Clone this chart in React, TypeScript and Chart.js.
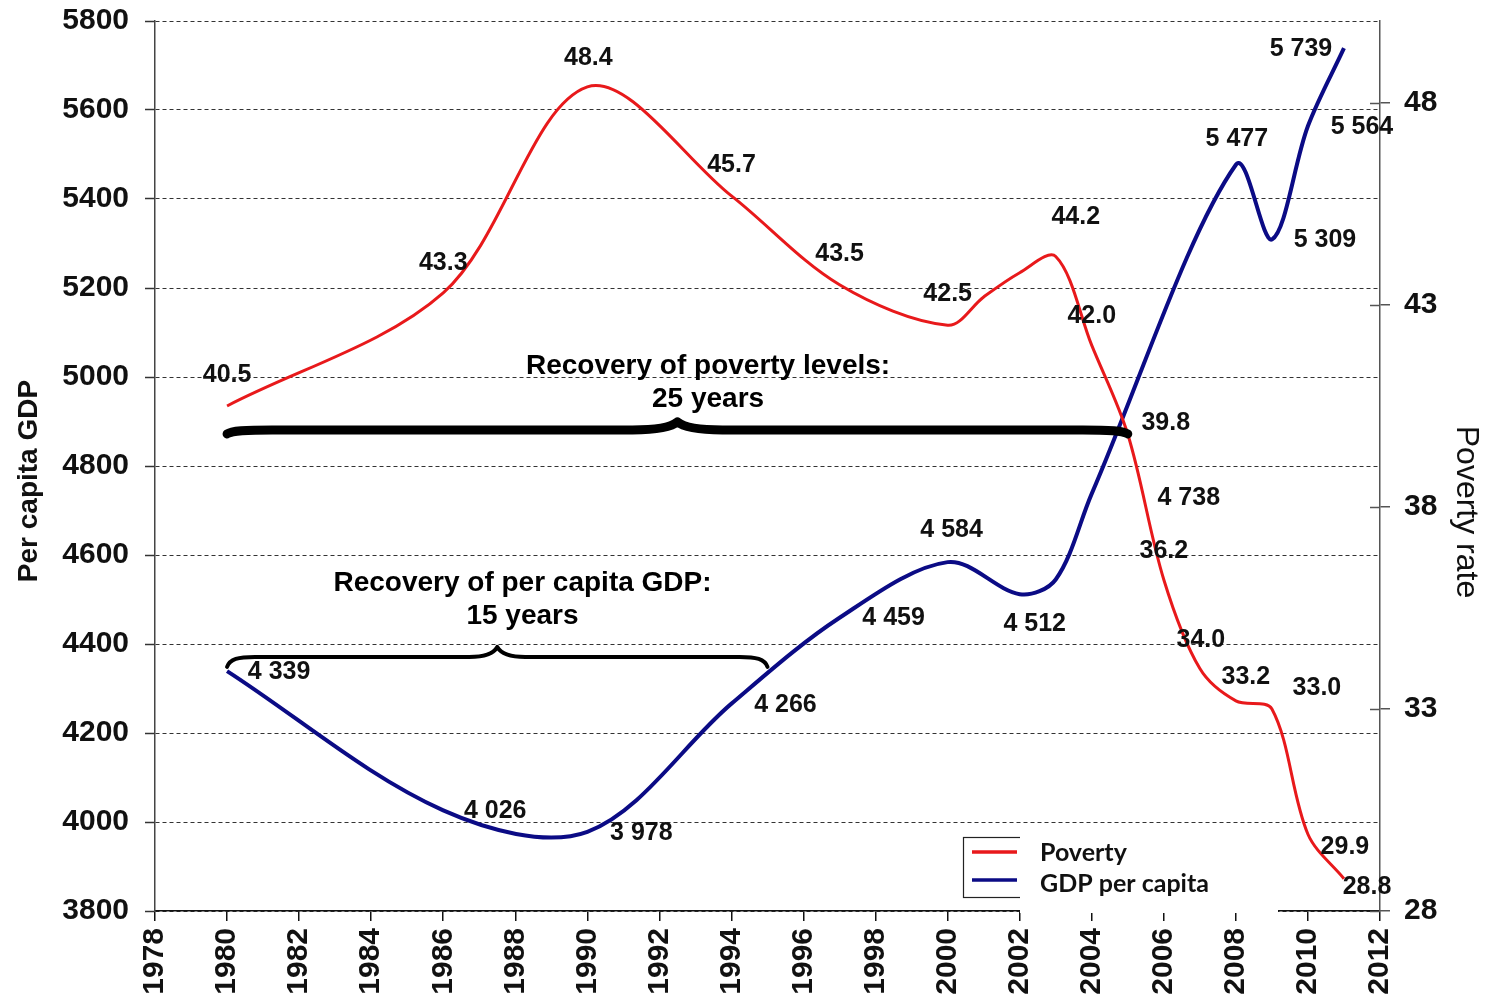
import React, { useEffect, useRef } from "react";
import { Chart, registerables } from "chart.js";

Chart.register(...registerables);

// ---------------- data ----------------
const povertyYears = [1980, 1986, 1990, 1994, 1997, 2000, 2001, 2002, 2003, 2004, 2005, 2006, 2007, 2008, 2009, 2010, 2011];
const povertyRates = [40.5, 43.3, 48.4, 45.7, 43.5, 42.5, 43.2, 43.8, 44.2, 42.0, 39.8, 36.2, 34.0, 33.2, 33.0, 29.9, 28.8];

const gdpYears = [1980, 1986, 1990, 1994, 1997, 2000, 2002, 2003, 2004, 2008, 2009, 2010, 2011];
const gdpValues = [4339, 4026, 3978, 4266, 4459, 4584, 4512, 4545, 4738, 5477, 5309, 5564, 5739];

const xTickStart = 1978;
const xTickEnd = 2012;
const xTickStep = 2;
const gdpTickMin = 3800;
const gdpTickMax = 5800;
const gdpTickStep = 200;
const povertyTicks = [28, 33, 38, 43, 48];

const seriesNames = ["Poverty", "GDP per capita"];
const axisTitles = ["Per capita GDP", "Poverty rate"];

// annotation content
const braceStartYears = [1980, 1980];
const braceEndYears = [2005, 1995];
const braceLevels = [4881, 4371];
const braceTextLines = [
  ["Recovery of poverty levels:", "25 years"],
  ["Recovery of per capita GDP:", "15 years"],
];

// ---------------- styles / label placement (pixels) ----------------
const FONT = '"Liberation Sans", Arial, sans-serif';
const RED = "#e8191b";
const NAVY = "#0b0b85";

// label centre offsets from data point (null = no label)
const povertyLabelOffsets: ([number, number] | null)[] = [
  [0, -31], [0, -30], [1, -29], [0, -31], [0, -31], [0, -31], null, null,
  [20, -39], [0, -29], [38, -11], [0, -29], [1, -28], [10, -24], [45, -21], [37, 13], [23, 8],
];
const gdpLabelOffsets: ([number, number] | null)[] = [
  [52, 1], [52, 1], [54, 1], [54, 1], [54, 0], [4, -32], [15, 30], null,
  [97, 5], [1, -26], [53, 1], [54, 1], [-43, 1],
];

// brace styling
const braceStyles = [
  { lineWidth: 9, tip: 8, endDrop: 4, r: 45, textYear: 1993.35, textValue: 5025 },
  { lineWidth: 4, tip: 10, endDrop: 10, r: 28, textYear: 1988.2, textValue: 4537 },
];

function fmtGdp(v: number) {
  return String(v).replace(/\B(?=(\d{3})+(?!\d))/g, " ");
}

function drawBrace(ctx: CanvasRenderingContext2D, x1: number, x2: number, y: number, s: any) {
  const xm = (x1 + x2) / 2;
  const { tip, endDrop, r } = s;
  ctx.beginPath();
  ctx.moveTo(x1, y + endDrop);
  ctx.bezierCurveTo(x1 + r * 0.1, y + endDrop * 0.2, x1 + r * 0.4, y, x1 + r, y);
  ctx.lineTo(xm - r, y);
  ctx.bezierCurveTo(xm - r * 0.35, y, xm - r * 0.1, y - tip * 0.5, xm, y - tip);
  ctx.bezierCurveTo(xm + r * 0.1, y - tip * 0.5, xm + r * 0.35, y, xm + r, y);
  ctx.lineTo(x2 - r, y);
  ctx.bezierCurveTo(x2 - r * 0.4, y, x2 - r * 0.1, y + endDrop * 0.2, x2, y + endDrop);
  ctx.stroke();
}

const overlayPlugin = {
  id: "overlay",
  afterDatasetsDraw(chart: any) {
    const ctx: CanvasRenderingContext2D = chart.ctx;
    const xs = chart.scales.x;
    const yl = chart.scales.y;
    const yr = chart.scales.y1;
    ctx.save();

    // inner half of right-axis cross ticks
    ctx.strokeStyle = "#555";
    ctx.lineWidth = 1.5;
    for (const t of yr.ticks) {
      const py = Math.round(yr.getPixelForValue(t.value)) + 0.5;
      ctx.beginPath();
      ctx.moveTo(chart.chartArea.right - 10, py);
      ctx.lineTo(chart.chartArea.right, py);
      ctx.stroke();
    }

    // braces + texts
    ctx.strokeStyle = "#000";
    ctx.lineCap = "round";
    ctx.lineJoin = "round";
    for (let i = 0; i < braceStartYears.length; i++) {
      const s = braceStyles[i];
      ctx.lineWidth = s.lineWidth;
      const x1 = xs.getPixelForValue(braceStartYears[i]);
      const x2 = xs.getPixelForValue(braceEndYears[i]);
      const y = yl.getPixelForValue(braceLevels[i]);
      drawBrace(ctx, x1, x2, y, s);
      ctx.fillStyle = "#000";
      ctx.font = `bold 28px ${FONT}`;
      ctx.textAlign = "center";
      ctx.textBaseline = "middle";
      const tx = xs.getPixelForValue(s.textYear);
      const ty = yl.getPixelForValue(s.textValue);
      braceTextLines[i].forEach((line, k) => ctx.fillText(line, tx, ty + k * 33));
    }

    // data labels
    ctx.font = `bold 25px ${FONT}`;
    ctx.fillStyle = "#111";
    ctx.textAlign = "center";
    ctx.textBaseline = "middle";
    const pm = chart.getDatasetMeta(0).data;
    povertyRates.forEach((v, i) => {
      const o = povertyLabelOffsets[i];
      if (!o) return;
      ctx.fillText(v.toFixed(1), pm[i].x + o[0], pm[i].y + o[1]);
    });
    const gm = chart.getDatasetMeta(1).data;
    gdpValues.forEach((v, i) => {
      const o = gdpLabelOffsets[i];
      if (!o) return;
      ctx.fillText(fmtGdp(v), gm[i].x + o[0], gm[i].y + o[1]);
    });
    ctx.restore();
  },
  afterDraw(chart: any) {
    const ctx: CanvasRenderingContext2D = chart.ctx;
    const area = chart.chartArea;
    ctx.save();

    // axis titles
    ctx.fillStyle = "#111";
    ctx.textAlign = "center";
    ctx.textBaseline = "middle";
    ctx.font = `bold 28px ${FONT}`;
    ctx.translate(29, 481);
    ctx.rotate(-Math.PI / 2);
    ctx.fillText(axisTitles[0], 0, 0);
    ctx.setTransform(1, 0, 0, 1, 0, 0);
    ctx.font = `32px ${FONT}`;
    ctx.translate(1466, 512);
    ctx.rotate(Math.PI / 2);
    ctx.fillText(axisTitles[1], 0, 0);
    ctx.setTransform(1, 0, 0, 1, 0, 0);

    // legend
    const lx = area.left + 808;
    const ly = area.bottom - 74;
    ctx.fillStyle = "#fff";
    ctx.fillRect(lx, ly, 120, 60);
    ctx.strokeStyle = "#222";
    ctx.lineWidth = 1.2;
    ctx.strokeRect(lx + 0.5, ly + 0.5, 120, 60);
    ctx.fillStyle = "#fff";
    ctx.fillRect(lx + 57, ly - 11, 258, 87);
    const ds = chart.data.datasets;
    const rows = [ly + 15, ly + 43];
    ctx.font = `bold 25px Lato, "Open Sans", sans-serif`;
    ctx.textAlign = "left";
    ctx.textBaseline = "middle";
    ds.forEach((d: any, i: number) => {
      ctx.strokeStyle = d.borderColor;
      ctx.lineWidth = 3.5;
      ctx.lineCap = "butt";
      ctx.beginPath();
      ctx.moveTo(lx + 9, rows[i]);
      ctx.lineTo(lx + 54, rows[i]);
      ctx.stroke();
      ctx.fillStyle = "#111";
      ctx.fillText(d.label, lx + 77, rows[i] + (i === 1 ? 4 : 1));
    });
    ctx.restore();
  },
};

export default function App() {
  const ref = useRef<HTMLCanvasElement | null>(null);

  useEffect(() => {
    if (!ref.current) return;
    const chart = new Chart(ref.current, {
      type: "line",
      data: {
        datasets: [
          {
            label: seriesNames[0],
            data: povertyYears.map((x, i) => ({ x, y: povertyRates[i] })),
            yAxisID: "y1",
            borderColor: RED,
            borderWidth: 3,
            tension: 0.33,
            pointRadius: 0,
            fill: false,
          },
          {
            label: seriesNames[1],
            data: gdpYears.map((x, i) => ({ x, y: gdpValues[i] })),
            yAxisID: "y",
            borderColor: NAVY,
            borderWidth: 4,
            tension: 0.33,
            pointRadius: 0,
            fill: false,
          },
        ],
      },
      options: {
        animation: false,
        responsive: true,
        maintainAspectRatio: false,
        devicePixelRatio: 1,
        layout: { padding: { top: 21, left: 0, right: 0, bottom: 0 } },
        plugins: { legend: { display: false }, tooltip: { enabled: false } },
        scales: {
          x: {
            type: "linear",
            position: "bottom",
            min: xTickStart,
            max: xTickEnd,
            ticks: {
              stepSize: xTickStep,
              autoSkip: false,
              minRotation: 90,
              maxRotation: 90,
              padding: 7,
              color: "#111",
              font: { family: FONT, size: 30, weight: "bold" },
              callback: (v: any) => String(v),
            },
            grid: { drawOnChartArea: false, drawTicks: true, tickLength: 10, color: "#111", lineWidth: 1.5 },
            border: { display: true, color: "#111", width: 1.5 },
            afterFit: (s: any) => {
              s.height = 89;
            },
          },
          y: {
            type: "linear",
            position: "left",
            min: gdpTickMin,
            max: gdpTickMax,
            ticks: {
              stepSize: gdpTickStep,
              padding: 16,
              color: "#111",
              font: { family: FONT, size: 30, weight: "bold", lineHeight: 0.3 },
              callback: (v: any) => String(v),
            },
            grid: { color: "#333", lineWidth: 1, tickLength: 10, tickColor: "#333", tickWidth: 1.5 },
            border: { display: true, color: "#444", width: 1.5, dash: [4, 3] },
            afterFit: (s: any) => {
              s.width = 155;
            },
          },
          y1: {
            type: "linear",
            position: "right",
            min: 28,
            max: 50.03,
            afterBuildTicks: (s: any) => {
              s.ticks = povertyTicks.map((v) => ({ value: v }));
            },
            ticks: {
              padding: 14,
              color: "#111",
              font: { family: FONT, size: 30, weight: "bold", lineHeight: 0.3 },
              callback: (v: any) => String(v),
            },
            grid: { drawOnChartArea: false, drawTicks: true, tickLength: 10, color: "#555", lineWidth: 1.5 },
            border: { display: true, color: "#555", width: 1.5 },
            afterFit: (s: any) => {
              s.width = 115;
            },
          },
        },
      },
      plugins: [overlayPlugin],
    } as any);
    return () => chart.destroy();
  }, []);

  return (
    <div style={{ position: "fixed", left: 0, top: 0, width: 1495, height: 1000, background: "#fff" }}>
      <canvas ref={ref} />
    </div>
  );
}
